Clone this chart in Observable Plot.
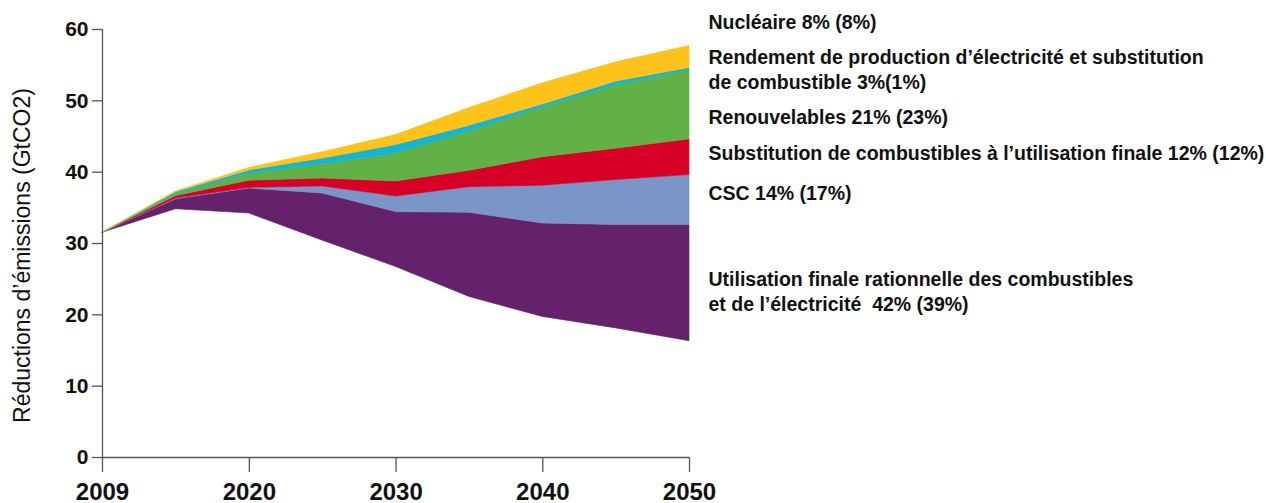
<!DOCTYPE html>
<html>
<head>
<meta charset="utf-8">
<script src="https://cdn.jsdelivr.net/npm/d3@7"></script>
<script src="https://cdn.jsdelivr.net/npm/@observablehq/plot@0.6"></script>
<style>
  html, body { margin: 0; padding: 0; background: #fff; }
  #chart { width: 1266px; height: 503px; }
</style>
</head>
<body>
<div id="chart"></div>
<script>
// ---- Data (GtCO2) ----
const years = [2009, 2015, 2020, 2025, 2030, 2035, 2040, 2045, 2050];
const remaining  = [31.5, 34.8, 34.2, 30.4, 26.7, 22.5, 19.7, 18.1, 16.3];
const efficiency = [0, 1.4, 3.5, 6.6, 7.7, 11.8, 13.1, 14.5, 16.3];
const ccs        = [0, 0.1, 0.1, 1.0, 2.2, 3.6, 5.3, 6.3, 7.0];
const fuelSwitch = [0, 0.35, 1.0, 1.1, 2.1, 2.3, 4.0, 4.4, 5.0];
const renewables = [0, 0.35, 1.0, 2.0, 3.9, 5.5, 7.0, 8.9, 9.7];
const powerEff   = [0, 0.2, 0.45, 0.8, 1.2, 0.8, 0.4, 0.5, 0.3];
const nuclear    = [0, 0.1, 0.35, 0.9, 1.4, 2.5, 2.95, 2.7, 3.1];

const seriesNames = ["Émissions restantes", "Utilisation finale", "CSC", "Substitution", "Renouvelables", "Rendement", "Nucléaire"];
const seriesValues = [remaining, efficiency, ccs, fuelSwitch, renewables, powerEff, nuclear];
const seriesColors = ["none", "#65226c", "#7a96c8", "#d70026", "#62b146", "#13b5d3", "#fdc31a"];

const xTicks = [2009, 2020, 2030, 2040, 2050];
const yTicks = [0, 10, 20, 30, 40, 50, 60];
const yTitle = "Réductions d’émissions (GtCO2)";
const labelLines = [
  "Nucléaire 8% (8%)",
  "Rendement de production d’électricité et substitution",
  "de combustible 3%(1%)",
  "Renouvelables 21% (23%)",
  "Substitution de combustibles à l’utilisation finale 12% (12%)",
  "CSC 14% (17%)",
  "Utilisation finale rationnelle des combustibles",
  "et de l’électricité  42% (39%)"
];

const table = [];
seriesNames.forEach((s, i) => years.forEach((y, j) => table.push({series: s, year: y, value: seriesValues[i][j]})));

// layout offsets of the right-hand labels (px from frame top)
const labelDy = [-7, 28, 53, 88, 124, 164, 250, 275];
const font = "'Liberation Sans', Arial, Helvetica, sans-serif";
const axisColor = "#555";

const chart = Plot.plot({
  width: 1266,
  height: 503,
  marginLeft: 102,
  marginRight: 577,
  marginTop: 29,
  marginBottom: 46,
  style: {fontFamily: font, background: "#fff", color: "#111", overflow: "visible"},
  x: {type: "linear", domain: [2009, 2015, 2050], range: [102, 175.5, 689]},
  y: {domain: [0, 60], range: [457, 29]},
  color: {domain: seriesNames, range: seriesColors},
  marks: [
    Plot.areaY(table, {x: "year", y: "value", z: "series", fill: "series", stroke: "series", strokeWidth: 0.6, order: seriesNames}),
    Plot.ruleX([2009], {y1: 0, y2: 60, stroke: axisColor, strokeWidth: 1.3}),
    Plot.ruleY([0], {x1: 2009, x2: 2050, stroke: axisColor, strokeWidth: 1.3}),
    Plot.axisX({ticks: xTicks, tickSize: 15, tickPadding: 10, tickFormat: d => String(d), fontSize: 24, fontWeight: "bold", stroke: axisColor, strokeWidth: 1.3, label: null}),
    Plot.axisY({ticks: yTicks, tickSize: 10, tickPadding: 4, fontSize: 21, fontWeight: "bold", stroke: axisColor, strokeWidth: 1.3, label: null}),
    Plot.text([yTitle], {frameAnchor: "left", textAnchor: "middle", rotate: -90, dx: -80, dy: 12, fontSize: 23, fill: "#111"}),
    ...labelLines.map((t, i) => Plot.text([t], {frameAnchor: "top-right", dx: 19, dy: labelDy[i], textAnchor: "start", lineAnchor: "middle", fontSize: 19.5, fontWeight: "bold", fill: "#111"}))
  ]
});
document.getElementById("chart").appendChild(chart);
</script>
</body>
</html>
